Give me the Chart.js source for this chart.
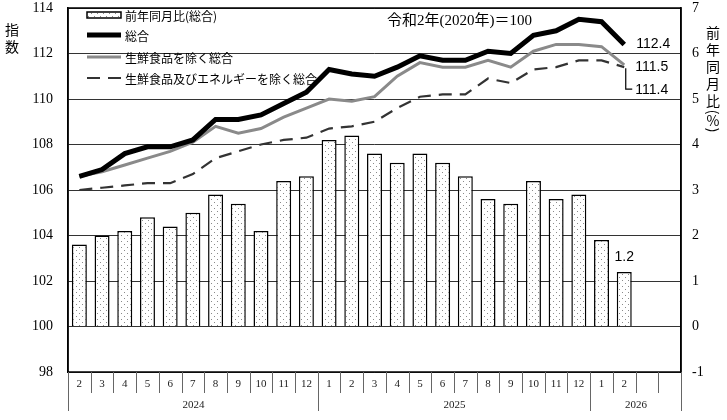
<!DOCTYPE html>
<html lang="ja">
<head>
<meta charset="utf-8">
<script src="https://cdn.jsdelivr.net/npm/chart.js@4"></script>
<style>
	html, body { margin: 0; padding: 0; background: #fff; }
	#wrap { width: 727px; height: 420px; }
</style>
</head>
<body>
<div id="wrap"><canvas id="cpiChart" width="727" height="420"></canvas></div>
<script>
// 月ラベル（最後の2つは空欄）
const monthLabels = ['2', '3', '4', '5', '6', '7', '8', '9', '10', '11', '12',
	'1', '2', '3', '4', '5', '6', '7', '8', '9', '10', '11', '12',
	'1', '2', '', ''];
const yearLabels = ['2024', '2025', '2026'];
const yearSpans = [11, 12, 4];

// 前年同月比(総合) %
const yoyTotal = [1.8, 2.0, 2.1, 2.4, 2.2, 2.5, 2.9, 2.7, 2.1, 3.2, 3.3,
	4.1, 4.2, 3.8, 3.6, 3.8, 3.6, 3.3, 2.8, 2.7, 3.2, 2.8, 2.9,
	1.9, 1.2];
// 総合
const indexTotal = [106.6, 106.9, 107.6, 107.9, 107.9, 108.2, 109.1, 109.1, 109.3, 109.8, 110.3,
	111.3, 111.1, 111.0, 111.4, 111.9, 111.7, 111.7, 112.1, 112.0, 112.8, 113.0, 113.5,
	113.4, 112.4];
// 生鮮食品を除く総合
const indexCore = [106.6, 106.8, 107.1, 107.4, 107.7, 108.1, 108.8, 108.5, 108.7, 109.2, 109.6,
	110.0, 109.9, 110.1, 111.0, 111.6, 111.4, 111.4, 111.7, 111.4, 112.1, 112.4, 112.4,
	112.3, 111.5];
// 生鮮食品及びエネルギーを除く総合
const indexCoreCore = [106.0, 106.1, 106.2, 106.3, 106.3, 106.7, 107.4, 107.7, 108.0, 108.2, 108.3,
	108.7, 108.8, 109.0, 109.6, 110.1, 110.2, 110.2, 110.9, 110.7, 111.3, 111.4, 111.7,
	111.7, 111.4];

const legendNames = ['前年同月比(総合)', '総合', '生鮮食品を除く総合', '生鮮食品及びエネルギーを除く総合'];

const JP = '"Noto Sans CJK JP", sans-serif';
const SERIF = '"Liberation Serif", serif';
const SANS = '"Liberation Sans", Arial, sans-serif';

// 点々の塗り
function makeDots() {
	const c = document.createElement('canvas');
	c.width = 6; c.height = 6;
	const g = c.getContext('2d');
	g.fillStyle = '#fff';
	g.fillRect(0, 0, 6, 6);
	g.fillStyle = '#8a8a8a';
	g.fillRect(1, 1, 1, 1);
	g.fillRect(4, 4, 1, 1);
	return g.createPattern(c, 'repeat');
}
const dots = makeDots();

const overlay = {
	id: 'overlay',
	afterDraw(chart) {
		const ctx = chart.ctx;
		const a = chart.chartArea;
		const x = chart.scales.x;
		const colW = x.getPixelForValue(1) - x.getPixelForValue(0);
		const edge = i => x.getPixelForValue(i) - colW / 2;

		ctx.save();
		// 枠
		ctx.strokeStyle = '#000';
		ctx.lineWidth = 1.5;
		ctx.strokeRect(a.left, a.top, a.right - a.left, a.bottom - a.top);

		// 月の行
		ctx.strokeStyle = '#666';
		ctx.lineWidth = 1;
		ctx.fillStyle = '#222';
		ctx.font = '11px ' + SERIF;
		ctx.textAlign = 'center';
		ctx.textBaseline = 'middle';
		for (let i = 0; i <= monthLabels.length; i++) {
			const px = Math.round(edge(i)) + 0.5;
			ctx.beginPath();
			ctx.moveTo(px, a.bottom);
			ctx.lineTo(px, a.bottom + 21);
			ctx.stroke();
		}
		monthLabels.forEach((m, i) => ctx.fillText(m, x.getPixelForValue(i), a.bottom + 12));

		// 年の行
		let start = 0;
		yearLabels.forEach((y, k) => {
			const end = start + yearSpans[k];
			const x0 = Math.round(edge(start)) + 0.5;
			const x1 = Math.round(edge(end)) + 0.5;
			ctx.beginPath();
			ctx.moveTo(x0, a.bottom); ctx.lineTo(x0, a.bottom + 39);
			ctx.moveTo(x1, a.bottom); ctx.lineTo(x1, a.bottom + 39);
			ctx.stroke();
			ctx.fillText(y, (x0 + x1) / 2, a.bottom + 33);
			start = end;
		});

		// 凡例
		const ds = chart.data.datasets;
		const lx = 87, tx = 125;
		const rows = [15, 35, 57, 78];
		ctx.textAlign = 'left';
		ctx.font = '12px ' + JP;
		ctx.fillStyle = dots;
		ctx.fillRect(lx, rows[0] - 3, 34, 6);
		ctx.strokeStyle = '#000';
		ctx.lineWidth = 1.5;
		ctx.strokeRect(lx, rows[0] - 3, 34, 6);
		[1, 2, 3].forEach(k => {
			const d = ds[k];
			ctx.strokeStyle = d.borderColor;
			ctx.lineWidth = d.borderWidth;
			ctx.setLineDash(d.borderDash || []);
			ctx.beginPath();
			ctx.moveTo(lx, rows[k]);
			ctx.lineTo(lx + 34, rows[k]);
			ctx.stroke();
		});
		ctx.setLineDash([]);
		ctx.fillStyle = '#000';
		legendNames.forEach((n, k) => ctx.fillText(n, tx, rows[k] + 1));

		// 基準年
		ctx.font = '15px ' + SERIF + ', ' + JP;
		ctx.fillText('令和2年(2020年)＝100', 387, 21);

		// 最新値ラベル
		const last = indexTotal.length - 1;
		const pTot = chart.getDatasetMeta(1).data[last];
		const pCore = chart.getDatasetMeta(2).data[last];
		const pCC = chart.getDatasetMeta(3).data[last];
		ctx.font = '14px ' + SANS;
		ctx.fillText(indexTotal[last].toFixed(1), pTot.x + 12, pTot.y);
		ctx.fillText(indexCore[last].toFixed(1), pCore.x + 11, pCore.y + 2);
		ctx.strokeStyle = '#000';
		ctx.lineWidth = 1.2;
		ctx.beginPath();
		ctx.moveTo(pCC.x + 1.5, pCC.y + 1);
		ctx.lineTo(pCC.x + 1.5, pCC.y + 22);
		ctx.lineTo(pCC.x + 8, pCC.y + 22);
		ctx.stroke();
		ctx.fillText(indexCoreCore[last].toFixed(1), pCC.x + 11, pCC.y + 23);

		const bar = chart.getDatasetMeta(0).data[last];
		ctx.textAlign = 'center';
		ctx.fillText(yoyTotal[last].toFixed(1), bar.x, bar.y - 15);

		// 軸タイトル
		ctx.font = '14px ' + JP;
		ctx.fillText('指', 12, 30);
		ctx.fillText('数', 12, 47);
		const vt = ['前', '年', '同', '月', '比'];
		vt.forEach((c, k) => ctx.fillText(c, 713, 33 + k * 17));
		[['(', 112], [')', 130]].forEach(([c, yy]) => {
			ctx.save();
			ctx.translate(713, yy);
			ctx.rotate(Math.PI / 2);
			ctx.fillText(c, 0, 0);
			ctx.restore();
		});
		ctx.fillText('%', 713, 121);
		ctx.restore();
	}
};

// 目盛ラベルのはみ出し分で上端が下がらないようにする
function fixWidth(w) {
	return s => {
		s.width = w;
		s.paddingTop = 8;
		s.paddingBottom = 0;
	};
}

new Chart(document.getElementById('cpiChart'), {
	data: {
		labels: monthLabels,
		datasets: [
			{
				type: 'bar',
				label: legendNames[0],
				data: yoyTotal,
				yAxisID: 'y1',
				backgroundColor: dots,
				borderColor: '#000',
				borderWidth: 1.5,
				borderSkipped: 'bottom',
				barPercentage: 0.66,
				categoryPercentage: 1,
				order: 10
			},
			{
				type: 'line',
				label: legendNames[1],
				data: indexTotal,
				yAxisID: 'y',
				borderColor: '#000',
				borderWidth: 5,
				pointRadius: 0,
				tension: 0,
				order: 1
			},
			{
				type: 'line',
				label: legendNames[2],
				data: indexCore,
				yAxisID: 'y',
				borderColor: '#8a8a8a',
				borderWidth: 3,
				pointRadius: 0,
				tension: 0,
				order: 2
			},
			{
				type: 'line',
				label: legendNames[3],
				data: indexCoreCore,
				yAxisID: 'y',
				borderColor: '#333',
				borderWidth: 2.2,
				borderDash: [13, 8],
				pointRadius: 0,
				tension: 0,
				order: 3
			}
		]
	},
	options: {
		responsive: false,
		animation: false,
		devicePixelRatio: 1,
		layout: { padding: { top: 8, bottom: 48, left: 0, right: 0 } },
		plugins: {
			legend: { display: false },
			tooltip: { enabled: false }
		},
		scales: {
			x: {
				display: false,
				offset: true
			},
			y: {
				position: 'left',
				min: 98,
				max: 114,
				afterFit: fixWidth(68),
				ticks: {
					stepSize: 2,
					padding: 15,
					color: '#000',
					font: { family: SERIF, size: 14 }
				},
				grid: { color: '#333', lineWidth: 1, drawTicks: false },
				border: { display: true, color: '#000', width: 1.5 }
			},
			y1: {
				position: 'right',
				min: -1,
				max: 7,
				afterFit: fixWidth(46),
				ticks: {
					stepSize: 1,
					padding: 11,
					color: '#000',
					font: { family: SERIF, size: 14 }
				},
				grid: { drawOnChartArea: false, drawTicks: false },
				border: { display: true, color: '#000', width: 1.5 }
			}
		}
	},
	plugins: [overlay]
});
</script>
</body>
</html>
